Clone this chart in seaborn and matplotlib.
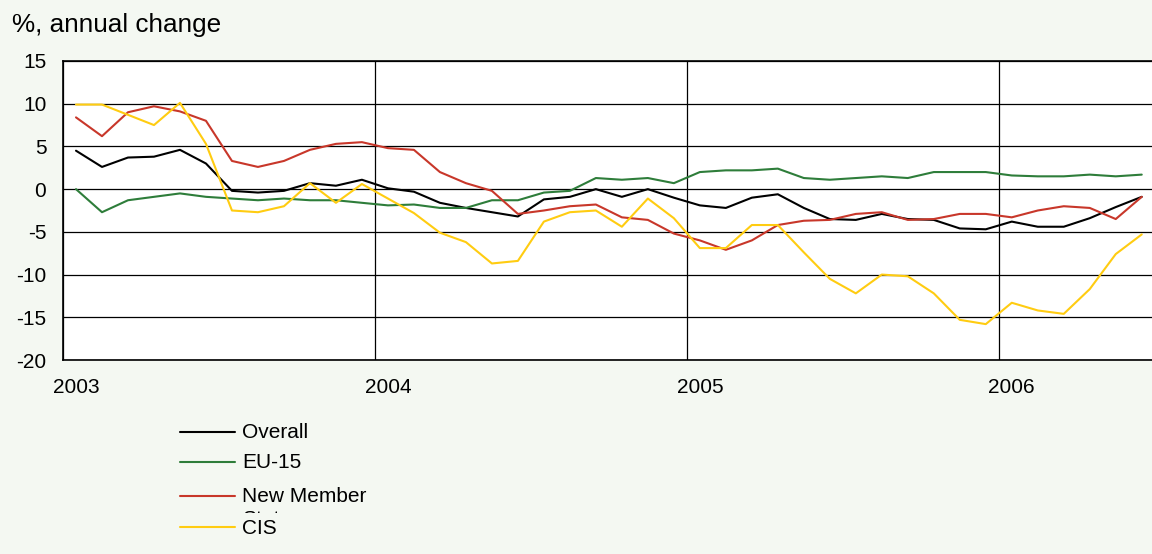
import numpy as np
import pandas as pd
import matplotlib
matplotlib.use("Agg")
import matplotlib.pyplot as plt
from matplotlib.lines import Line2D
from matplotlib.transforms import Bbox
import seaborn as sns

# Monthly series, January 2003 - June 2006 (% annual change)
months = pd.period_range("2003-01", "2006-06", freq="M")

overall = [4.5, 2.6, 3.7, 3.8, 4.6, 3.0, -0.2, -0.4, -0.2, 0.7, 0.4, 1.1,
           0.1, -0.3, -1.6, -2.2, -2.7, -3.2, -1.2, -0.9, 0.0, -0.9, 0.0, -1.0,
           -1.9, -2.2, -1.0, -0.6, -2.2, -3.5, -3.6, -2.9, -3.5, -3.6, -4.6, -4.7,
           -3.8, -4.4, -4.4, -3.4, -2.1, -0.9]
eu15 = [0.0, -2.7, -1.3, -0.9, -0.5, -0.9, -1.1, -1.3, -1.1, -1.3, -1.3, -1.6,
        -1.9, -1.8, -2.2, -2.2, -1.3, -1.3, -0.4, -0.2, 1.3, 1.1, 1.3, 0.7,
        2.0, 2.2, 2.2, 2.4, 1.3, 1.1, 1.3, 1.5, 1.3, 2.0, 2.0, 2.0,
        1.6, 1.5, 1.5, 1.7, 1.5, 1.7]
new_members = [8.4, 6.2, 9.0, 9.7, 9.1, 8.0, 3.3, 2.6, 3.3, 4.6, 5.3, 5.5,
               4.8, 4.6, 2.0, 0.7, -0.2, -2.9, -2.5, -2.0, -1.8, -3.3, -3.6, -5.2,
               -6.0, -7.1, -6.0, -4.2, -3.7, -3.6, -2.9, -2.7, -3.6, -3.5, -2.9, -2.9,
               -3.3, -2.5, -2.0, -2.2, -3.5, -0.9]
cis = [9.9, 9.9, 8.7, 7.5, 10.1, 5.3, -2.5, -2.7, -2.0, 0.7, -1.6, 0.6,
       -1.1, -2.8, -5.1, -6.2, -8.7, -8.4, -3.8, -2.7, -2.5, -4.4, -1.1, -3.4,
       -6.9, -6.9, -4.2, -4.2, -7.4, -10.5, -12.2, -10.0, -10.2, -12.2, -15.3, -15.8,
       -13.3, -14.2, -14.6, -11.7, -7.6, -5.3]

series_names = ["Overall", "EU-15", "New Member States", "CIS"]
legend_labels = ["Overall", "EU-15", "New Member", "CIS"]
colors = ["#000000", "#2e7d3a", "#c8372a", "#ffcc11"]
year_labels = ["2003", "2004", "2005", "2006"]
y_ticks = [15, 10, 5, 0, -5, -10, -15, -20]

# Months are placed at mid-month positions on a month-index axis
month_pos = np.arange(len(months)) + 0.5
df = pd.DataFrame({
    "month": np.tile(month_pos, 4),
    "value": overall + eu15 + new_members + cis,
    "series": np.repeat(series_names, len(months)),
})

W, H = 1152, 554
BG = "#f4f8f2"
sns.set_theme(style="white")
plt.rcParams["font.family"] = ["Liberation Sans", "DejaVu Sans"]

fig = plt.figure(figsize=(W / 100, H / 100), dpi=100, facecolor=BG)
ax = fig.add_axes([63 / W, 1 - 360 / H, 1 - 63 / W, (360 - 61) / H])
ax.set_facecolor("white")

sns.lineplot(data=df, x="month", y="value", hue="series", hue_order=series_names,
             palette=dict(zip(series_names, colors)), linewidth=1.5,
             legend=False, ax=ax, zorder=3)

ax.set_xlim(0, (W - 64) / 25.97)
ax.set_ylim(-20, 15)

# Year boundaries as gridlines, year labels centred on January
ax.set_xticks([12 * i for i in range(len(year_labels))])
ax.set_xticks([12 * i + 0.5 for i in range(len(year_labels))], minor=True)
ax.set_xticklabels([])
ax.set_xticklabels(year_labels, minor=True)
ax.set_yticks(y_ticks)
ax.set_yticklabels([str(v) for v in y_ticks])
ax.tick_params(axis="x", which="both", length=0, pad=13, labelsize=15, colors="black")
ax.tick_params(axis="y", length=0, pad=12, labelsize=15, colors="black")
ax.grid(True, which="major", color="black", linewidth=0.9)
ax.set_xlabel("")
ax.set_ylabel("")

for side in ["left", "top", "bottom"]:
    ax.spines[side].set_visible(True)
    ax.spines[side].set_color("black")
    ax.spines[side].set_linewidth(1.2)
ax.spines["right"].set_visible(False)

fig.text(12 / W, 1 - 32 / H, "%, annual change", fontsize=18.8,
         ha="left", va="baseline", color="black")

# Legend drawn below the plot
line_rows = [432, 462, 496, 527]
for label, color, y in zip(legend_labels, colors, line_rows):
    fig.add_artist(Line2D([180 / W, 235 / W], [1 - y / H, 1 - y / H],
                          color=color, linewidth=1.5, transform=fig.transFigure))
    fig.text(242 / W, 1 - (y + 6.5) / H, label, fontsize=15,
             ha="left", va="baseline", color="black")

# Second line of the wrapped label, mostly hidden under the next entry
states = fig.text(242 / W, 1 - 525 / H, "States", fontsize=15,
                  ha="left", va="baseline", color="black")
states.set_clip_box(Bbox.from_extents(0, H - 513, W, H - 500))
states.set_clip_on(True)

fig.savefig("out.png", dpi=100, facecolor=BG)
